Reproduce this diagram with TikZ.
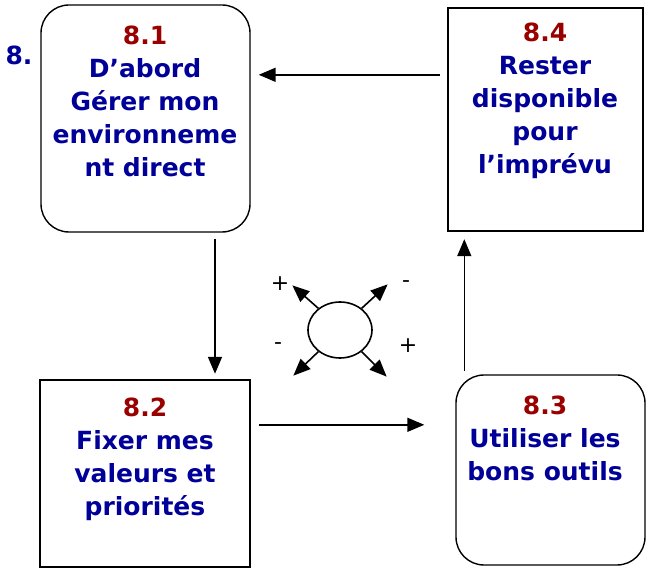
\documentclass[tikz,border=0pt]{standalone}
\usepackage{fontspec}
\setmainfont{DejaVu Sans}
\usetikzlibrary{arrows.meta,shapes.geometric,positioning}
\definecolor{numred}{RGB}{153,0,0}
\definecolor{txtblue}{RGB}{0,0,153}

\begin{document}
\begin{tikzpicture}[x=1pt,y=-1pt,line width=1.6pt,>={Triangle[length=17pt,width=14pt]}]
\tikzset{
  roundbox/.style={draw,rounded corners=28pt,line width=1.4pt,inner sep=0pt},
  squarebox/.style={draw,line width=2.4pt,inner sep=0pt},
  boxtext/.style={align=center,font=\fontsize{25}{33}\selectfont\bfseries,
    text=txtblue,anchor=north,inner sep=0pt},
  sign/.style={font=\fontsize{22}{22}\selectfont},
  conn/.style={->,line width=1.6pt},
}
\useasboundingbox (0,0) rectangle (646,569);
% les quatre cadres
\node[roundbox,minimum width=209pt,minimum height=227pt] (n81) at (145.5,118.5) {};
\node[squarebox,minimum width=195pt,minimum height=223pt] (n84) at (545.5,119.5) {};
\node[squarebox,minimum width=210pt,minimum height=187pt] (n82) at (145,473.5) {};
\node[roundbox,minimum width=189pt,minimum height=190pt] (n83) at (550.5,470) {};
% textes
\node[boxtext] (t81) at (145,25) {{\color{numred}8.1}\\D’abord\\Gérer mon\\environneme\\nt direct};
\node[boxtext] (t84) at (545,22) {{\color{numred}8.4}\\Rester\\disponible\\pour\\l’imprévu};
\node[boxtext] (t82) at (145,397) {{\color{numred}8.2}\\Fixer mes\\valeurs et\\priorités};
\node[boxtext] (t83) at (545,395) {{\color{numred}8.3}\\Utiliser les\\bons outils};
\node[boxtext,anchor=center] (t8) at (19,55) {8.};
% le cycle
\draw[conn] ([xshift=-7pt,yshift=-68pt]n84.north west) coordinate (a1)
  -- ([xshift=8pt]n81.east |- a1);
\draw[conn] ([xshift=69.5pt,yshift=-6pt]n81.south) coordinate (a2)
  -- ([yshift=5pt]a2 |- n82.north);
\draw[conn] ([xshift=8pt,yshift=-46pt]n82.north east) coordinate (a3)
  -- ([xshift=-31pt]n83.west |- a3);
\draw[conn] ([xshift=9pt,yshift=3pt]n83.north west) coordinate (a4)
  -- ([yshift=-7pt]a4 |- n84.south);
% boussole au centre
\node[ellipse,draw,line width=1.6pt,minimum width=64pt,minimum height=56pt] (hub) at (340,330) {};
\draw[conn] (hub.135) -- ++(-26,-23) coordinate (ul);
\draw[conn] (hub.45) -- ++(26,-24) coordinate (ur);
\draw[conn] (hub.225) -- ++(-25,24) coordinate (dl);
\draw[conn] (hub.-45) -- ++(25,25) coordinate (dr);
\node[sign] (p1) at (280,284) {+};
\node[sign] (m1) at (406,284) {-};
\node[sign] (m2) at (278,346) {-};
\node[sign] (p2) at (408,346) {+};
\end{tikzpicture}
\end{document}
